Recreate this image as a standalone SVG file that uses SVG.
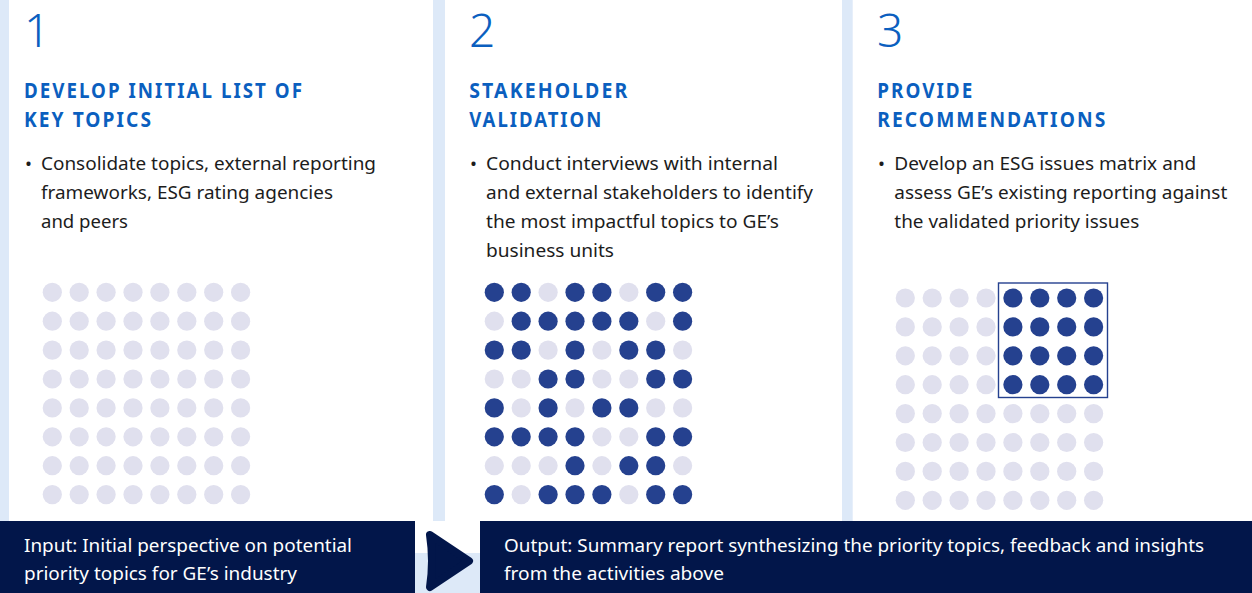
<svg xmlns="http://www.w3.org/2000/svg" width="1252" height="593" viewBox="0 0 1252 593">
<style>
.num{font-family:"Noto Sans","Open Sans",sans-serif;font-weight:300;font-size:46px;fill:#0b5fbf}
.hd{font-family:"Noto Sans","Open Sans",sans-serif;font-weight:700;font-size:20.5px;letter-spacing:2.2px;fill:#0b5fbf}
.tx{font-family:"Noto Sans","Open Sans",sans-serif;font-size:18.5px;fill:#1c1c1c}
.wt{font-family:"Noto Sans","Open Sans",sans-serif;font-size:18.5px;fill:#ffffff}
.d{fill:#25418f}
.l{fill:#e0e0ee}
.navy{fill:#02164a}
</style>
<rect x="0" y="0" width="1252" height="593" fill="#dde9f8"/>
<rect x="415" y="521" width="65" height="32" fill="#ffffff"/>

<g id="panel1">
<rect x="9" y="0" width="424" height="521" fill="#ffffff"/>
<text class="num" x="24" y="46.7">1</text>
<text class="hd" x="24" y="98.3" textLength="280" lengthAdjust="spacingAndGlyphs">DEVELOP INITIAL LIST OF</text>
<text class="hd" x="24" y="126.7" textLength="129" lengthAdjust="spacingAndGlyphs">KEY TOPICS</text>
<text class="tx" x="25" y="170">•</text>
<text class="tx" x="41" y="170" textLength="335" lengthAdjust="spacingAndGlyphs">Consolidate topics, external reporting</text>
<text class="tx" x="41" y="199" textLength="292" lengthAdjust="spacingAndGlyphs">frameworks, ESG rating agencies</text>
<text class="tx" x="41" y="228" textLength="87" lengthAdjust="spacingAndGlyphs">and peers</text>
<g transform="translate(52.3,292.3)">
<circle class="l" cx="0" cy="0" r="9.6"/><circle class="l" cx="26.9" cy="0" r="9.6"/><circle class="l" cx="53.8" cy="0" r="9.6"/><circle class="l" cx="80.7" cy="0" r="9.6"/><circle class="l" cx="107.6" cy="0" r="9.6"/><circle class="l" cx="134.5" cy="0" r="9.6"/><circle class="l" cx="161.4" cy="0" r="9.6"/><circle class="l" cx="188.3" cy="0" r="9.6"/>
<circle class="l" cx="0" cy="28.9" r="9.6"/><circle class="l" cx="26.9" cy="28.9" r="9.6"/><circle class="l" cx="53.8" cy="28.9" r="9.6"/><circle class="l" cx="80.7" cy="28.9" r="9.6"/><circle class="l" cx="107.6" cy="28.9" r="9.6"/><circle class="l" cx="134.5" cy="28.9" r="9.6"/><circle class="l" cx="161.4" cy="28.9" r="9.6"/><circle class="l" cx="188.3" cy="28.9" r="9.6"/>
<circle class="l" cx="0" cy="57.8" r="9.6"/><circle class="l" cx="26.9" cy="57.8" r="9.6"/><circle class="l" cx="53.8" cy="57.8" r="9.6"/><circle class="l" cx="80.7" cy="57.8" r="9.6"/><circle class="l" cx="107.6" cy="57.8" r="9.6"/><circle class="l" cx="134.5" cy="57.8" r="9.6"/><circle class="l" cx="161.4" cy="57.8" r="9.6"/><circle class="l" cx="188.3" cy="57.8" r="9.6"/>
<circle class="l" cx="0" cy="86.7" r="9.6"/><circle class="l" cx="26.9" cy="86.7" r="9.6"/><circle class="l" cx="53.8" cy="86.7" r="9.6"/><circle class="l" cx="80.7" cy="86.7" r="9.6"/><circle class="l" cx="107.6" cy="86.7" r="9.6"/><circle class="l" cx="134.5" cy="86.7" r="9.6"/><circle class="l" cx="161.4" cy="86.7" r="9.6"/><circle class="l" cx="188.3" cy="86.7" r="9.6"/>
<circle class="l" cx="0" cy="115.6" r="9.6"/><circle class="l" cx="26.9" cy="115.6" r="9.6"/><circle class="l" cx="53.8" cy="115.6" r="9.6"/><circle class="l" cx="80.7" cy="115.6" r="9.6"/><circle class="l" cx="107.6" cy="115.6" r="9.6"/><circle class="l" cx="134.5" cy="115.6" r="9.6"/><circle class="l" cx="161.4" cy="115.6" r="9.6"/><circle class="l" cx="188.3" cy="115.6" r="9.6"/>
<circle class="l" cx="0" cy="144.5" r="9.6"/><circle class="l" cx="26.9" cy="144.5" r="9.6"/><circle class="l" cx="53.8" cy="144.5" r="9.6"/><circle class="l" cx="80.7" cy="144.5" r="9.6"/><circle class="l" cx="107.6" cy="144.5" r="9.6"/><circle class="l" cx="134.5" cy="144.5" r="9.6"/><circle class="l" cx="161.4" cy="144.5" r="9.6"/><circle class="l" cx="188.3" cy="144.5" r="9.6"/>
<circle class="l" cx="0" cy="173.4" r="9.6"/><circle class="l" cx="26.9" cy="173.4" r="9.6"/><circle class="l" cx="53.8" cy="173.4" r="9.6"/><circle class="l" cx="80.7" cy="173.4" r="9.6"/><circle class="l" cx="107.6" cy="173.4" r="9.6"/><circle class="l" cx="134.5" cy="173.4" r="9.6"/><circle class="l" cx="161.4" cy="173.4" r="9.6"/><circle class="l" cx="188.3" cy="173.4" r="9.6"/>
<circle class="l" cx="0" cy="202.3" r="9.6"/><circle class="l" cx="26.9" cy="202.3" r="9.6"/><circle class="l" cx="53.8" cy="202.3" r="9.6"/><circle class="l" cx="80.7" cy="202.3" r="9.6"/><circle class="l" cx="107.6" cy="202.3" r="9.6"/><circle class="l" cx="134.5" cy="202.3" r="9.6"/><circle class="l" cx="161.4" cy="202.3" r="9.6"/><circle class="l" cx="188.3" cy="202.3" r="9.6"/>
</g>
</g>

<g id="panel2">
<rect x="445" y="0" width="397" height="521" fill="#ffffff"/>
<text class="num" x="469" y="46.7">2</text>
<text class="hd" x="469.3" y="98.3" textLength="160" lengthAdjust="spacingAndGlyphs">STAKEHOLDER</text>
<text class="hd" x="469.3" y="126.7" textLength="134" lengthAdjust="spacingAndGlyphs">VALIDATION</text>
<text class="tx" x="470" y="170">•</text>
<text class="tx" x="486" y="170" textLength="292" lengthAdjust="spacingAndGlyphs">Conduct interviews with internal</text>
<text class="tx" x="486" y="199" textLength="327" lengthAdjust="spacingAndGlyphs">and external stakeholders to identify</text>
<text class="tx" x="486" y="228" textLength="293" lengthAdjust="spacingAndGlyphs">the most impactful topics to GE’s</text>
<text class="tx" x="486" y="257" textLength="128" lengthAdjust="spacingAndGlyphs">business units</text>
<g transform="translate(494.3,292.3)">
<circle class="d" cx="0" cy="0" r="9.6"/><circle class="d" cx="26.9" cy="0" r="9.6"/><circle class="l" cx="53.8" cy="0" r="9.6"/><circle class="d" cx="80.7" cy="0" r="9.6"/><circle class="d" cx="107.6" cy="0" r="9.6"/><circle class="l" cx="134.5" cy="0" r="9.6"/><circle class="d" cx="161.4" cy="0" r="9.6"/><circle class="d" cx="188.3" cy="0" r="9.6"/>
<circle class="l" cx="0" cy="28.9" r="9.6"/><circle class="d" cx="26.9" cy="28.9" r="9.6"/><circle class="d" cx="53.8" cy="28.9" r="9.6"/><circle class="d" cx="80.7" cy="28.9" r="9.6"/><circle class="d" cx="107.6" cy="28.9" r="9.6"/><circle class="d" cx="134.5" cy="28.9" r="9.6"/><circle class="l" cx="161.4" cy="28.9" r="9.6"/><circle class="d" cx="188.3" cy="28.9" r="9.6"/>
<circle class="d" cx="0" cy="57.8" r="9.6"/><circle class="d" cx="26.9" cy="57.8" r="9.6"/><circle class="l" cx="53.8" cy="57.8" r="9.6"/><circle class="d" cx="80.7" cy="57.8" r="9.6"/><circle class="l" cx="107.6" cy="57.8" r="9.6"/><circle class="d" cx="134.5" cy="57.8" r="9.6"/><circle class="d" cx="161.4" cy="57.8" r="9.6"/><circle class="l" cx="188.3" cy="57.8" r="9.6"/>
<circle class="l" cx="0" cy="86.7" r="9.6"/><circle class="l" cx="26.9" cy="86.7" r="9.6"/><circle class="d" cx="53.8" cy="86.7" r="9.6"/><circle class="d" cx="80.7" cy="86.7" r="9.6"/><circle class="l" cx="107.6" cy="86.7" r="9.6"/><circle class="l" cx="134.5" cy="86.7" r="9.6"/><circle class="d" cx="161.4" cy="86.7" r="9.6"/><circle class="d" cx="188.3" cy="86.7" r="9.6"/>
<circle class="d" cx="0" cy="115.6" r="9.6"/><circle class="l" cx="26.9" cy="115.6" r="9.6"/><circle class="d" cx="53.8" cy="115.6" r="9.6"/><circle class="l" cx="80.7" cy="115.6" r="9.6"/><circle class="d" cx="107.6" cy="115.6" r="9.6"/><circle class="d" cx="134.5" cy="115.6" r="9.6"/><circle class="l" cx="161.4" cy="115.6" r="9.6"/><circle class="l" cx="188.3" cy="115.6" r="9.6"/>
<circle class="d" cx="0" cy="144.5" r="9.6"/><circle class="d" cx="26.9" cy="144.5" r="9.6"/><circle class="d" cx="53.8" cy="144.5" r="9.6"/><circle class="d" cx="80.7" cy="144.5" r="9.6"/><circle class="l" cx="107.6" cy="144.5" r="9.6"/><circle class="l" cx="134.5" cy="144.5" r="9.6"/><circle class="d" cx="161.4" cy="144.5" r="9.6"/><circle class="d" cx="188.3" cy="144.5" r="9.6"/>
<circle class="l" cx="0" cy="173.4" r="9.6"/><circle class="l" cx="26.9" cy="173.4" r="9.6"/><circle class="l" cx="53.8" cy="173.4" r="9.6"/><circle class="d" cx="80.7" cy="173.4" r="9.6"/><circle class="l" cx="107.6" cy="173.4" r="9.6"/><circle class="d" cx="134.5" cy="173.4" r="9.6"/><circle class="d" cx="161.4" cy="173.4" r="9.6"/><circle class="l" cx="188.3" cy="173.4" r="9.6"/>
<circle class="d" cx="0" cy="202.3" r="9.6"/><circle class="l" cx="26.9" cy="202.3" r="9.6"/><circle class="d" cx="53.8" cy="202.3" r="9.6"/><circle class="d" cx="80.7" cy="202.3" r="9.6"/><circle class="d" cx="107.6" cy="202.3" r="9.6"/><circle class="l" cx="134.5" cy="202.3" r="9.6"/><circle class="d" cx="161.4" cy="202.3" r="9.6"/><circle class="d" cx="188.3" cy="202.3" r="9.6"/>
</g>
</g>

<g id="panel3">
<rect x="852.7" y="0" width="399.3" height="521" fill="#ffffff"/>
<text class="num" x="877" y="46.7">3</text>
<text class="hd" x="877.3" y="98.3" textLength="97" lengthAdjust="spacingAndGlyphs">PROVIDE</text>
<text class="hd" x="877.3" y="126.7" textLength="230" lengthAdjust="spacingAndGlyphs">RECOMMENDATIONS</text>
<text class="tx" x="878" y="170">•</text>
<text class="tx" x="894.3" y="170" textLength="302" lengthAdjust="spacingAndGlyphs">Develop an ESG issues matrix and</text>
<text class="tx" x="894.3" y="199" textLength="333" lengthAdjust="spacingAndGlyphs">assess GE’s existing reporting against</text>
<text class="tx" x="894.3" y="228" textLength="245" lengthAdjust="spacingAndGlyphs">the validated priority issues</text>
<g transform="translate(905.3,298)">
<circle class="l" cx="0" cy="0" r="9.6"/><circle class="l" cx="26.9" cy="0" r="9.6"/><circle class="l" cx="53.8" cy="0" r="9.6"/><circle class="l" cx="80.7" cy="0" r="9.6"/><circle class="d" cx="107.6" cy="0" r="9.6"/><circle class="d" cx="134.5" cy="0" r="9.6"/><circle class="d" cx="161.4" cy="0" r="9.6"/><circle class="d" cx="188.3" cy="0" r="9.6"/>
<circle class="l" cx="0" cy="28.9" r="9.6"/><circle class="l" cx="26.9" cy="28.9" r="9.6"/><circle class="l" cx="53.8" cy="28.9" r="9.6"/><circle class="l" cx="80.7" cy="28.9" r="9.6"/><circle class="d" cx="107.6" cy="28.9" r="9.6"/><circle class="d" cx="134.5" cy="28.9" r="9.6"/><circle class="d" cx="161.4" cy="28.9" r="9.6"/><circle class="d" cx="188.3" cy="28.9" r="9.6"/>
<circle class="l" cx="0" cy="57.8" r="9.6"/><circle class="l" cx="26.9" cy="57.8" r="9.6"/><circle class="l" cx="53.8" cy="57.8" r="9.6"/><circle class="l" cx="80.7" cy="57.8" r="9.6"/><circle class="d" cx="107.6" cy="57.8" r="9.6"/><circle class="d" cx="134.5" cy="57.8" r="9.6"/><circle class="d" cx="161.4" cy="57.8" r="9.6"/><circle class="d" cx="188.3" cy="57.8" r="9.6"/>
<circle class="l" cx="0" cy="86.7" r="9.6"/><circle class="l" cx="26.9" cy="86.7" r="9.6"/><circle class="l" cx="53.8" cy="86.7" r="9.6"/><circle class="l" cx="80.7" cy="86.7" r="9.6"/><circle class="d" cx="107.6" cy="86.7" r="9.6"/><circle class="d" cx="134.5" cy="86.7" r="9.6"/><circle class="d" cx="161.4" cy="86.7" r="9.6"/><circle class="d" cx="188.3" cy="86.7" r="9.6"/>
<circle class="l" cx="0" cy="115.6" r="9.6"/><circle class="l" cx="26.9" cy="115.6" r="9.6"/><circle class="l" cx="53.8" cy="115.6" r="9.6"/><circle class="l" cx="80.7" cy="115.6" r="9.6"/><circle class="l" cx="107.6" cy="115.6" r="9.6"/><circle class="l" cx="134.5" cy="115.6" r="9.6"/><circle class="l" cx="161.4" cy="115.6" r="9.6"/><circle class="l" cx="188.3" cy="115.6" r="9.6"/>
<circle class="l" cx="0" cy="144.5" r="9.6"/><circle class="l" cx="26.9" cy="144.5" r="9.6"/><circle class="l" cx="53.8" cy="144.5" r="9.6"/><circle class="l" cx="80.7" cy="144.5" r="9.6"/><circle class="l" cx="107.6" cy="144.5" r="9.6"/><circle class="l" cx="134.5" cy="144.5" r="9.6"/><circle class="l" cx="161.4" cy="144.5" r="9.6"/><circle class="l" cx="188.3" cy="144.5" r="9.6"/>
<circle class="l" cx="0" cy="173.4" r="9.6"/><circle class="l" cx="26.9" cy="173.4" r="9.6"/><circle class="l" cx="53.8" cy="173.4" r="9.6"/><circle class="l" cx="80.7" cy="173.4" r="9.6"/><circle class="l" cx="107.6" cy="173.4" r="9.6"/><circle class="l" cx="134.5" cy="173.4" r="9.6"/><circle class="l" cx="161.4" cy="173.4" r="9.6"/><circle class="l" cx="188.3" cy="173.4" r="9.6"/>
<circle class="l" cx="0" cy="202.3" r="9.6"/><circle class="l" cx="26.9" cy="202.3" r="9.6"/><circle class="l" cx="53.8" cy="202.3" r="9.6"/><circle class="l" cx="80.7" cy="202.3" r="9.6"/><circle class="l" cx="107.6" cy="202.3" r="9.6"/><circle class="l" cx="134.5" cy="202.3" r="9.6"/><circle class="l" cx="161.4" cy="202.3" r="9.6"/><circle class="l" cx="188.3" cy="202.3" r="9.6"/>
</g>
<rect x="998.5" y="283" width="109" height="114.5" fill="none" stroke="#25418f" stroke-width="1.4"/>
</g>

<g id="input">
<rect class="navy" x="0" y="521" width="415" height="72"/>
<text class="wt" x="24" y="552" textLength="328" lengthAdjust="spacingAndGlyphs">Input: Initial perspective on potential</text>
<text class="wt" x="24" y="580" textLength="273" lengthAdjust="spacingAndGlyphs">priority topics for GE’s industry</text>
</g>

<g id="connectors">
<path class="navy" d="M430,535 L469,561 L430,587 Q434,561 430,535 Z" stroke="#02164a" stroke-width="8" stroke-linejoin="round"/>
</g>

<g id="output">
<rect class="navy" x="480" y="521" width="772" height="72"/>
<text class="wt" x="504" y="552" textLength="700" lengthAdjust="spacingAndGlyphs">Output: Summary report synthesizing the priority topics, feedback and insights</text>
<text class="wt" x="504" y="580" textLength="220" lengthAdjust="spacingAndGlyphs">from the activities above</text>
</g>
</svg>
